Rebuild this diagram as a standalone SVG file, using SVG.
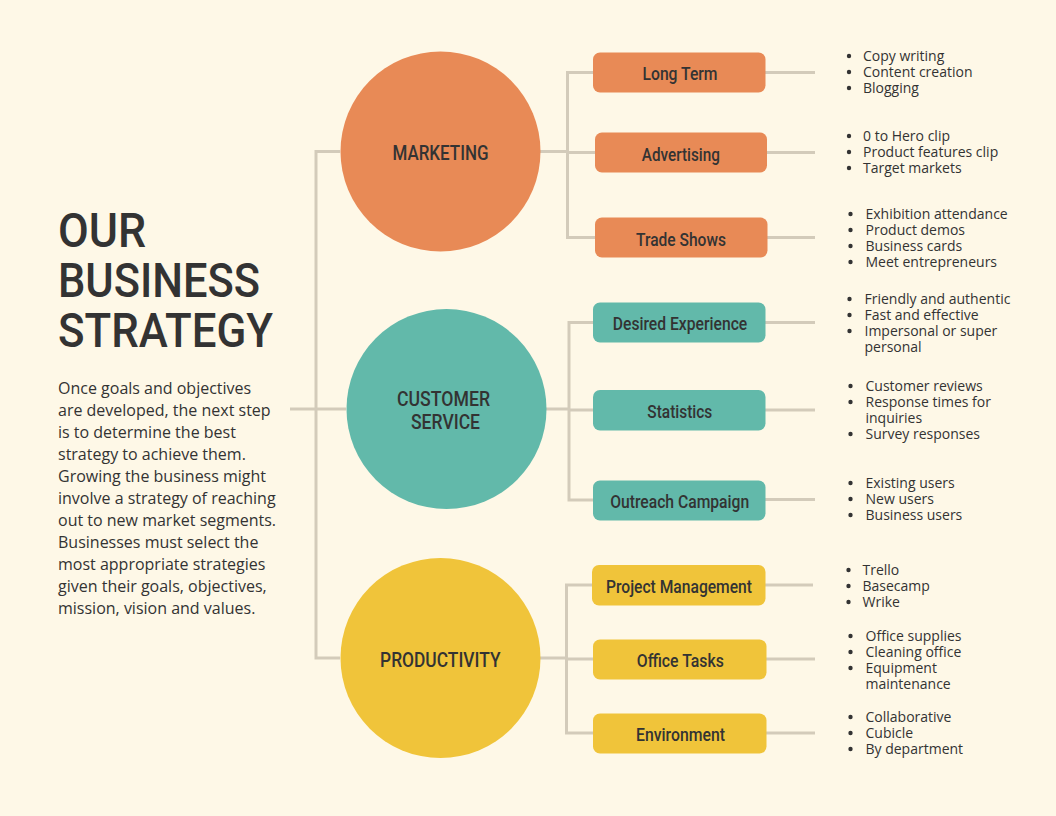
<svg xmlns="http://www.w3.org/2000/svg" width="1056" height="816" viewBox="0 0 1056 816">
<style>
.bg{fill:#fef8e7}
.ln{fill:none;stroke:#d3cbba;stroke-width:3}
.cond{font-family:"Roboto","Liberation Sans",sans-serif;font-weight:500;fill:#333333}
.title{font-size:48px}
.clab{font-size:20px;text-anchor:middle}
.blab{font-size:18.5px;text-anchor:middle}
.body{font-family:"Open Sans","Noto Sans",sans-serif;fill:#333333;font-size:16px}
.bul{font-family:"Open Sans","Noto Sans",sans-serif;fill:#333333;font-size:14px}
.dot{fill:#333333}
.or{fill:#e88a56}
.te{fill:#62b9aa}
.ye{fill:#f0c43a}
</style>
<rect class="bg" x="0" y="0" width="1056" height="816"/>

<g id="title">
<text class="cond title" x="58" y="247" textLength="88" lengthAdjust="spacingAndGlyphs">OUR</text>
<text class="cond title" x="58" y="297" textLength="202" lengthAdjust="spacingAndGlyphs">BUSINESS</text>
<text class="cond title" x="58" y="347" textLength="215" lengthAdjust="spacingAndGlyphs">STRATEGY</text>
</g>
<g id="description" class="body">
<text x="58" y="394">Once goals and objectives</text>
<text x="58" y="416">are developed, the next step</text>
<text x="58" y="438">is to determine the best</text>
<text x="58" y="460">strategy to achieve them.</text>
<text x="58" y="482">Growing the business might</text>
<text x="58" y="504">involve a strategy of reaching</text>
<text x="58" y="526">out to new market segments.</text>
<text x="58" y="548">Businesses must select the</text>
<text x="58" y="570">most appropriate strategies</text>
<text x="58" y="592">given their goals, objectives,</text>
<text x="58" y="614">mission, vision and values.</text>
</g>

<g id="connectors" class="ln">
<path d="M290 409 H346"/>
<path d="M340 151.5 H316 V658 H340"/>
<path d="M540 151.5 H567.5"/>
<path d="M593 72.5 H567.5 V237.5 H595"/>
<path d="M567.5 152.5 H595"/>
<path d="M546 409 H569"/>
<path d="M593 322.5 H569 V500 H593"/>
<path d="M569 410 H593"/>
<path d="M540 658 H566.5"/>
<path d="M592 585 H566.5 V733 H593"/>
<path d="M566.5 659 H593"/>
<path d="M765 72.5 H815"/>
<path d="M767 152.5 H815"/>
<path d="M767 237.5 H815"/>
<path d="M765 322.5 H815"/>
<path d="M765 410 H815"/>
<path d="M765 499.5 H815"/>
<path d="M765 585 H813"/>
<path d="M766 659 H815"/>
<path d="M766 733 H815"/>
</g>

<g id="marketing">
<circle class="or" cx="440.5" cy="151.5" r="100"/>
<text class="cond clab" x="440.5" y="159.5" textLength="96" lengthAdjust="spacingAndGlyphs">MARKETING</text>
</g>
<g id="customer-service">
<circle class="te" cx="446.5" cy="409" r="100"/>
<text class="cond clab" x="443.5" y="405.5" textLength="93" lengthAdjust="spacingAndGlyphs">CUSTOMER</text>
<text class="cond clab" x="445.5" y="429" textLength="69" lengthAdjust="spacingAndGlyphs">SERVICE</text>
</g>
<g id="productivity">
<circle class="ye" cx="440.5" cy="658" r="100"/>
<text class="cond clab" x="440.3" y="667" textLength="120.5" lengthAdjust="spacingAndGlyphs">PRODUCTIVITY</text>
</g>

<g id="long-term">
<rect class="or" x="593" y="52.5" width="172.5" height="40" rx="7"/>
<text class="cond blab" x="680" y="80" textLength="75" lengthAdjust="spacingAndGlyphs">Long Term</text>
</g>
<g id="advertising">
<rect class="or" x="595" y="132.5" width="172" height="40" rx="7"/>
<text class="cond blab" x="680.8" y="161" textLength="78" lengthAdjust="spacingAndGlyphs">Advertising</text>
</g>
<g id="trade-shows">
<rect class="or" x="595" y="217.5" width="172.5" height="40" rx="7"/>
<text class="cond blab" x="681" y="245.5" textLength="90" lengthAdjust="spacingAndGlyphs">Trade Shows</text>
</g>
<g id="desired-experience">
<rect class="te" x="593" y="302.5" width="172.5" height="40" rx="7"/>
<text class="cond blab" x="680" y="330" textLength="134.5" lengthAdjust="spacingAndGlyphs">Desired Experience</text>
</g>
<g id="statistics">
<rect class="te" x="593" y="390" width="172.5" height="40.5" rx="7"/>
<text class="cond blab" x="679.8" y="418" textLength="65" lengthAdjust="spacingAndGlyphs">Statistics</text>
</g>
<g id="outreach-campaign">
<rect class="te" x="593" y="480.5" width="172.5" height="40" rx="7"/>
<text class="cond blab" x="679.7" y="507.5" textLength="139" lengthAdjust="spacingAndGlyphs">Outreach Campaign</text>
</g>
<g id="project-management">
<rect class="ye" x="592" y="565" width="173.5" height="40.5" rx="7"/>
<text class="cond blab" x="679" y="592.5" textLength="146" lengthAdjust="spacingAndGlyphs">Project Management</text>
</g>
<g id="office-tasks">
<rect class="ye" x="593" y="639.5" width="173.5" height="40" rx="7"/>
<text class="cond blab" x="680.3" y="667" textLength="87" lengthAdjust="spacingAndGlyphs">Office Tasks</text>
</g>
<g id="environment">
<rect class="ye" x="593" y="713.5" width="173.5" height="40" rx="7"/>
<text class="cond blab" x="680.5" y="741" textLength="89" lengthAdjust="spacingAndGlyphs">Environment</text>
</g>

<g id="long-term-items" class="bul">
<circle class="dot" cx="849" cy="56" r="2.2"/><text x="863" y="61">Copy writing</text>
<circle class="dot" cx="849" cy="72" r="2.2"/><text x="863" y="77">Content creation</text>
<circle class="dot" cx="849" cy="88" r="2.2"/><text x="863" y="93">Blogging</text>
</g>
<g id="advertising-items" class="bul">
<circle class="dot" cx="849" cy="136" r="2.2"/><text x="863" y="141">0 to Hero clip</text>
<circle class="dot" cx="849" cy="152" r="2.2"/><text x="863" y="157">Product features clip</text>
<circle class="dot" cx="849" cy="168" r="2.2"/><text x="863" y="173">Target markets</text>
</g>
<g id="trade-shows-items" class="bul">
<circle class="dot" cx="850.5" cy="214" r="2.2"/><text x="865.5" y="219">Exhibition attendance</text>
<circle class="dot" cx="850.5" cy="230" r="2.2"/><text x="865.5" y="235">Product demos</text>
<circle class="dot" cx="850.5" cy="246" r="2.2"/><text x="865.5" y="251">Business cards</text>
<circle class="dot" cx="850.5" cy="262" r="2.2"/><text x="865.5" y="267">Meet entrepreneurs</text>
</g>
<g id="desired-experience-items" class="bul">
<circle class="dot" cx="849.5" cy="299" r="2.2"/><text x="864.5" y="304">Friendly and authentic</text>
<circle class="dot" cx="849.5" cy="315" r="2.2"/><text x="864.5" y="320">Fast and effective</text>
<circle class="dot" cx="849.5" cy="331" r="2.2"/><text x="864.5" y="336">Impersonal or super</text>
<text x="864.5" y="352">personal</text>
</g>
<g id="statistics-items" class="bul">
<circle class="dot" cx="850.5" cy="386" r="2.2"/><text x="865.5" y="391">Customer reviews</text>
<circle class="dot" cx="850.5" cy="402" r="2.2"/><text x="865.5" y="407">Response times for</text>
<text x="865.5" y="423">inquiries</text>
<circle class="dot" cx="850.5" cy="434" r="2.2"/><text x="865.5" y="439">Survey responses</text>
</g>
<g id="outreach-items" class="bul">
<circle class="dot" cx="850.5" cy="483" r="2.2"/><text x="865.5" y="488">Existing users</text>
<circle class="dot" cx="850.5" cy="499" r="2.2"/><text x="865.5" y="504">New users</text>
<circle class="dot" cx="850.5" cy="515" r="2.2"/><text x="865.5" y="520">Business users</text>
</g>
<g id="project-management-items" class="bul">
<circle class="dot" cx="848.5" cy="570" r="2.2"/><text x="862.5" y="575">Trello</text>
<circle class="dot" cx="848.5" cy="586" r="2.2"/><text x="862.5" y="591">Basecamp</text>
<circle class="dot" cx="848.5" cy="602" r="2.2"/><text x="862.5" y="607">Wrike</text>
</g>
<g id="office-tasks-items" class="bul">
<circle class="dot" cx="850.5" cy="636" r="2.2"/><text x="865.5" y="641">Office supplies</text>
<circle class="dot" cx="850.5" cy="652" r="2.2"/><text x="865.5" y="657">Cleaning office</text>
<circle class="dot" cx="850.5" cy="668" r="2.2"/><text x="865.5" y="673">Equipment</text>
<text x="865.5" y="689">maintenance</text>
</g>
<g id="environment-items" class="bul">
<circle class="dot" cx="850.5" cy="717" r="2.2"/><text x="865.5" y="722">Collaborative</text>
<circle class="dot" cx="850.5" cy="733" r="2.2"/><text x="865.5" y="738">Cubicle</text>
<circle class="dot" cx="850.5" cy="749" r="2.2"/><text x="865.5" y="754">By department</text>
</g>
</svg>
